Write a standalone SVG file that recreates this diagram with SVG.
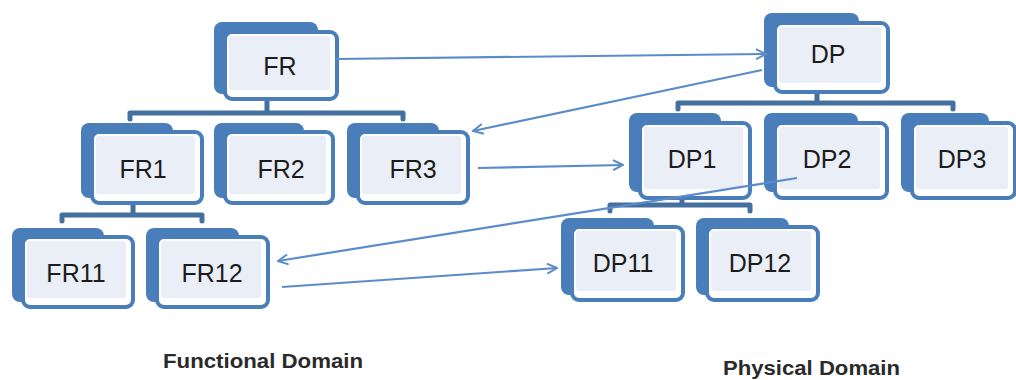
<svg xmlns="http://www.w3.org/2000/svg" width="1016" height="380" viewBox="0 0 1016 380">
  <style>
    .back { fill: #4a7ebb; }
    .front { fill: #ffffff; stroke: #4a7ebb; stroke-width: 4; }
    .inner { fill: #e9eef7; }
    .lbl { font-family: "Liberation Sans", Arial, sans-serif; font-size: 25px; fill: #1c1c1c; text-anchor: middle; }
    .tree { fill: none; stroke: #44709f; stroke-width: 5; stroke-linecap: round; stroke-linejoin: round; }
    .link { fill: none; stroke: #5b8cc9; stroke-width: 2.2; }
    .cap { font-family: "Liberation Sans", Arial, sans-serif; font-size: 20px; font-weight: bold; fill: #2a2a2a; }
  </style>
  <defs>
    <marker id="head" viewBox="0 0 12 12" refX="11" refY="6" markerWidth="12" markerHeight="12" markerUnits="userSpaceOnUse" orient="auto">
      <path d="M1,1 L11,6 L1,11" fill="none" stroke="#5b8cc9" stroke-width="2"/>
    </marker>
  </defs>

  <rect width="1016" height="380" fill="#ffffff"/>

  <!-- hierarchy bars -->
  <g id="tree">
    <path class="tree" d="M267,99 V113 M130,119 V113 H403 V119"/>
    <path class="tree" d="M133,203 V215 M62,221 V215 H202 V221"/>
    <path class="tree" d="M817,92 V103 M678,109 V103 H953 V109"/>
    <path class="tree" d="M682,198 V205 M610,211 V205 H750 V211"/>
  </g>

  <!-- functional domain -->
  <g id="FR">
    <rect class="back" x="214" y="22" width="104" height="72" rx="8"/>
    <rect class="front" x="225" y="32" width="112" height="67" rx="7"/>
    <rect class="inner" x="229" y="36" width="101" height="54" rx="3"/>
    <text class="lbl" x="280" y="75">FR</text>
  </g>
  <g id="FR1">
    <rect class="back" x="81" y="123" width="92" height="75" rx="8"/>
    <rect class="front" x="92" y="132" width="110" height="71" rx="7"/>
    <rect class="inner" x="96" y="136" width="99" height="58" rx="3"/>
    <text class="lbl" x="143" y="178">FR1</text>
  </g>
  <g id="FR2">
    <rect class="back" x="214" y="123" width="90" height="75" rx="8"/>
    <rect class="front" x="225" y="132" width="108" height="71" rx="7"/>
    <rect class="inner" x="229" y="136" width="97" height="58" rx="3"/>
    <text class="lbl" x="281" y="178">FR2</text>
  </g>
  <g id="FR3">
    <rect class="back" x="347" y="123" width="92" height="75" rx="8"/>
    <rect class="front" x="358" y="132" width="110" height="71" rx="7"/>
    <rect class="inner" x="362" y="136" width="99" height="58" rx="3"/>
    <text class="lbl" x="413" y="178">FR3</text>
  </g>
  <g id="FR11">
    <rect class="back" x="12" y="228" width="92" height="74" rx="8"/>
    <rect class="front" x="23" y="237" width="110" height="70" rx="7"/>
    <rect class="inner" x="27" y="241" width="99" height="57" rx="3"/>
    <text class="lbl" x="76" y="282">FR11</text>
  </g>
  <g id="FR12">
    <rect class="back" x="146" y="228" width="93" height="74" rx="8"/>
    <rect class="front" x="157" y="237" width="111" height="70" rx="7"/>
    <rect class="inner" x="161" y="241" width="100" height="57" rx="3"/>
    <text class="lbl" x="212" y="282">FR12</text>
  </g>

  <!-- physical domain -->
  <g id="DP">
    <rect class="back" x="764" y="13" width="95" height="74" rx="8"/>
    <rect class="front" x="775" y="23" width="113" height="69" rx="7"/>
    <rect class="inner" x="779" y="27" width="102" height="56" rx="3"/>
    <text class="lbl" x="828" y="63">DP</text>
  </g>
  <g id="DP1">
    <rect class="back" x="629" y="113" width="92" height="79" rx="8"/>
    <rect class="front" x="640" y="123" width="110" height="75" rx="7"/>
    <rect class="inner" x="644" y="127" width="99" height="62" rx="3"/>
    <text class="lbl" x="692" y="168">DP1</text>
  </g>
  <g id="DP2">
    <rect class="back" x="764" y="113" width="94" height="79" rx="8"/>
    <rect class="front" x="775" y="123" width="112" height="75" rx="7"/>
    <rect class="inner" x="779" y="127" width="101" height="62" rx="3"/>
    <text class="lbl" x="827" y="168">DP2</text>
  </g>
  <g id="DP3">
    <rect class="back" x="901" y="113" width="88" height="79" rx="8"/>
    <rect class="front" x="912" y="123" width="103" height="75" rx="7"/>
    <rect class="inner" x="916" y="127" width="92" height="62" rx="3"/>
    <text class="lbl" x="962" y="168">DP3</text>
  </g>
  <g id="DP11">
    <rect class="back" x="561" y="218" width="93" height="77" rx="8"/>
    <rect class="front" x="572" y="227" width="111" height="73" rx="7"/>
    <rect class="inner" x="576" y="231" width="100" height="60" rx="3"/>
    <text class="lbl" x="623" y="272">DP11</text>
  </g>
  <g id="DP12">
    <rect class="back" x="696" y="218" width="93" height="77" rx="8"/>
    <rect class="front" x="707" y="227" width="111" height="73" rx="7"/>
    <rect class="inner" x="711" y="231" width="100" height="60" rx="3"/>
    <text class="lbl" x="760" y="272">DP12</text>
  </g>

  <!-- mapping arrows between the domains -->
  <g id="connectors">
    <path class="link" d="M335,59 L766,54" marker-end="url(#head)"/>
    <path class="link" d="M762,70 L473,131" marker-end="url(#head)"/>
    <path class="link" d="M478,168 L623,165" marker-end="url(#head)"/>
    <path class="link" d="M797,178 L278,261" marker-end="url(#head)"/>
    <path class="link" d="M282,287 L557,268" marker-end="url(#head)"/>
  </g>

  <text class="cap" x="163" y="368" textLength="200" lengthAdjust="spacingAndGlyphs">Functional Domain</text>
  <text class="cap" x="723" y="375" textLength="177" lengthAdjust="spacingAndGlyphs">Physical Domain</text>
</svg>
